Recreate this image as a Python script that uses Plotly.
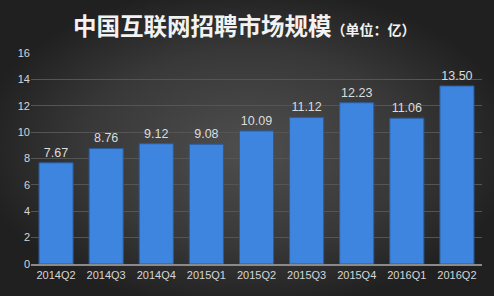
import plotly.graph_objects as go

categories = ["2014Q2", "2014Q3", "2014Q4", "2015Q1", "2015Q2", "2015Q3", "2015Q4", "2016Q1", "2016Q2"]
values = [7.67, 8.76, 9.12, 9.08, 10.09, 11.12, 12.23, 11.06, 13.50]
y_ticks = [0, 2, 4, 6, 8, 10, 12, 14, 16]
title_main = "中国互联网招聘市场规模"
title_unit = "（单位：亿）"

W, H = 494, 296
fig = go.Figure()

# background radial gradient on its own full-page subplot (drawn first)
fig.add_trace(go.Scatter(
    x=[-0.05, 1.05, 1.05, -0.05, -0.05], y=[-0.05, -0.05, 1.05, 1.05, -0.05],
    mode="lines", fill="toself",
    line=dict(width=0), hoverinfo="skip", showlegend=False,
    fillgradient=dict(type="radial", colorscale=[[0, "#4e4e4e"], [0.6, "#383838"], [1, "#202020"]]),
    xaxis="x", yaxis="y"))

fig.add_trace(go.Bar(
    x=categories, y=values, xaxis="x2", yaxis="y2",
    marker=dict(color="#3d85de", line=dict(color="#2a5c9e", width=1)),
    text=[f"{v:.2f}" for v in values], textposition="outside",
    textfont=dict(size=12.5, color="#dcdcdc", family="Liberation Sans"),
    cliponaxis=False, showlegend=False))

fig.update_layout(
    width=W, height=H, margin=dict(l=0, r=0, t=0, b=0, pad=0),
    paper_bgcolor="#2a2a2a", plot_bgcolor="rgba(0,0,0,0)",
    bargap=0.32,
    xaxis=dict(domain=[0, 1], range=[0, 1], visible=False, fixedrange=True, automargin=False),
    yaxis=dict(domain=[0, 1], range=[0, 1], visible=False, fixedrange=True, automargin=False),
    xaxis2=dict(domain=[31 / W, 482 / W], anchor="y2", showgrid=False, automargin=False,
                showline=True, linecolor="#8a8a8a", linewidth=1.5, ticks="",
                tickfont=dict(size=11, color="#d6d6d6", family="Liberation Sans")),
    yaxis2=dict(domain=[(H - 264) / H, (H - 53) / H], anchor="x2", range=[0, 16],
                tickvals=y_ticks, showgrid=True, gridcolor="#555555", gridwidth=1,
                zeroline=False, showline=False, ticks="", automargin=False,
                tickfont=dict(size=11, color="#d6d6d6", family="Liberation Sans")),
    annotations=[dict(
        x=244 / W, y=1 - 25 / H, xref="paper", yref="paper", showarrow=False,
        xanchor="center", yanchor="middle",
        text=f"<b>{title_main}</b><b><span style='font-size:14px'>{title_unit}</span></b>",
        font=dict(size=23.5, color="#f2f2f2", family="Noto Sans CJK SC"))],
)

fig.write_html("out.html")
